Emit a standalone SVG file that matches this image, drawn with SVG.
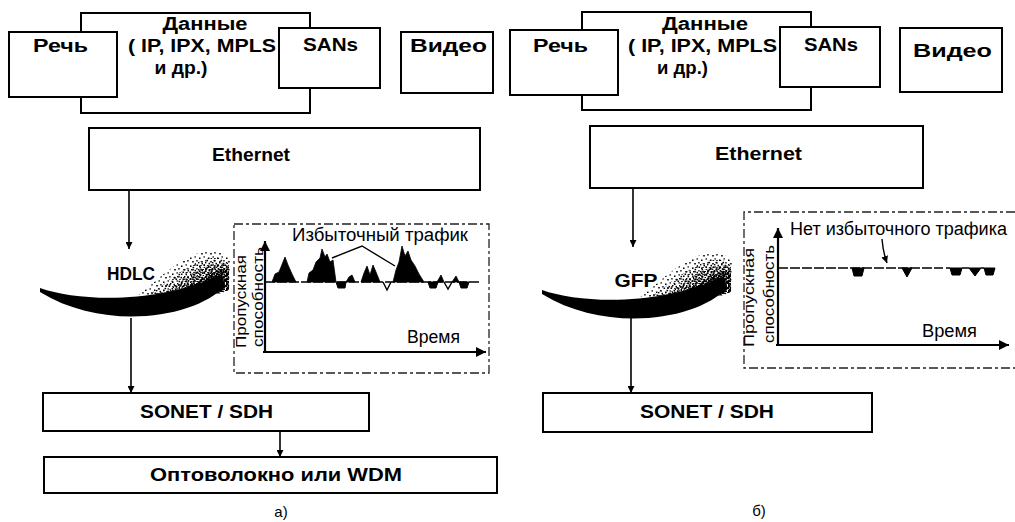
<svg xmlns="http://www.w3.org/2000/svg" width="1015" height="522" viewBox="0 0 1015 522">
<style>
.box{fill:#fff;stroke:#000;stroke-width:2}
.lbl{font-family:"Liberation Sans",Arial,sans-serif;font-weight:bold;font-size:18px;text-anchor:middle;fill:#000}
.ch{font-family:"Liberation Sans",Arial,sans-serif;font-size:18px;fill:#000}
.rot{font-family:"Liberation Sans",Arial,sans-serif;font-size:15px;text-anchor:middle;fill:#000}
.cap{font-family:"Liberation Sans",Arial,sans-serif;font-size:15px;text-anchor:middle;fill:#000}
.conn{stroke:#000;stroke-width:1.6;fill:none}
.axis{stroke:#000;stroke-width:2.2;fill:none}
.frame{fill:none;stroke:#222;stroke-width:1.3;stroke-dasharray:9 3 3 3}
.base{stroke:#000;stroke-width:1.5;fill:none;stroke-dasharray:10 2}
.peak{fill:#000;stroke:#000;stroke-width:0.8;stroke-linejoin:round}
.dip{fill:#000;stroke:#000;stroke-width:1;stroke-linejoin:round}
.vdip{fill:none;stroke:#000;stroke-width:1.4}
.call{fill:none;stroke:#000;stroke-width:1.4}
.dot{fill:#000}
</style>
<defs>
<marker id="ah" markerUnits="userSpaceOnUse" markerWidth="7" markerHeight="7" viewBox="0 0 10 10" refX="10" refY="5" orient="auto"><path d="M0,0 L10,5 L0,10 Z" fill="#000"/></marker>
<marker id="axh" markerUnits="userSpaceOnUse" markerWidth="11" markerHeight="10" viewBox="0 0 10 10" refX="10" refY="5" orient="auto"><path d="M0,0 L10,5 L0,10 Z" fill="#000"/></marker>
<pattern id="d1" patternUnits="userSpaceOnUse" width="9" height="8">
<rect class="dot" x="1" y="1.5" width="1.5" height="1.5"/><rect class="dot" x="5.5" y="0.3" width="1.4" height="1.3"/><rect class="dot" x="3.2" y="5" width="1.6" height="1.5"/><rect class="dot" x="7.3" y="4" width="1.3" height="1.6"/>
</pattern>
<pattern id="d2" patternUnits="userSpaceOnUse" width="7" height="7">
<rect class="dot" x="0.5" y="5.5" width="1.6" height="1.5"/><rect class="dot" x="3.5" y="0.8" width="1.6" height="1.5"/><rect class="dot" x="5.5" y="3.8" width="1.5" height="1.6"/><rect class="dot" x="2" y="3" width="1.4" height="1.4"/><rect class="dot" x="4.2" y="6" width="1.5" height="1"/>
</pattern>
<pattern id="d3" patternUnits="userSpaceOnUse" width="6" height="6">
<rect class="dot" x="0.8" y="0.3" width="1.8" height="1.7"/><rect class="dot" x="3.8" y="2.2" width="1.8" height="1.7"/><rect class="dot" x="1.6" y="4" width="1.7" height="1.8"/><rect class="dot" x="4.6" y="5" width="1.4" height="1"/><rect class="dot" x="0" y="2.6" width="1.3" height="1.3"/>
</pattern>
<pattern id="d4" patternUnits="userSpaceOnUse" width="5" height="5">
<rect class="dot" x="0" y="0" width="2.2" height="2"/><rect class="dot" x="2.6" y="1.2" width="2.2" height="2.2"/><rect class="dot" x="1" y="3" width="2.1" height="2"/><rect class="dot" x="3.6" y="3.8" width="1.4" height="1.2"/>
</pattern>
<g id="crescent">
<path d="M122,306 C148,292 168,264 198,253 C211,249 222,251 230,258 L229,290 C200,302 160,308 122,311 Z" fill="url(#d1)"/>
<path d="M136,303 C158,292 176,270 203,260 C214,256 223,258 229,262 L229,290 C200,300 170,305 136,307 Z" fill="url(#d2)"/>
<path d="M152,300 C172,290 188,274 208,265 L229,263 L229,290 C205,298 180,302 152,303 Z" fill="url(#d3)"/>
<path d="M168,296 C186,288 202,278 218,270 L229,268 L229,290 C210,296 190,299 168,300 Z" fill="url(#d4)"/>
<path d="M40,288 C80,302 160,304 222,274 L225,286 C195,318 105,332 40,292 Z" fill="#000"/>
</g>
</defs>
<rect width="1015" height="522" fill="#fff"/>

<g id="connectors">
<path class="conn" d="M129,190 V249" marker-end="url(#ah)"/>
<path class="conn" d="M131,318 V393" marker-end="url(#ah)"/>
<path class="conn" d="M280,431 V457" marker-end="url(#ah)"/>
<path class="conn" d="M633,188 V247" marker-end="url(#ah)"/>
<path class="conn" d="M631,318 V393" marker-end="url(#ah)"/>
</g>

<!-- Panel a -->
<g id="dannye-a">
<rect class="box" x="81" y="13" width="229" height="100"/>
<text class="lbl" x="205" y="30" textLength="85" lengthAdjust="spacingAndGlyphs">Данные</text>
<text class="lbl" x="202" y="52" textLength="148" lengthAdjust="spacingAndGlyphs">( IP, IPX, MPLS</text>
<text class="lbl" x="181" y="74" textLength="53" lengthAdjust="spacingAndGlyphs">и др.)</text>
</g>
<g id="rech-a">
<rect class="box" x="9" y="32" width="108" height="65"/>
<text class="lbl" x="60.5" y="52" textLength="55" lengthAdjust="spacingAndGlyphs">Речь</text>
</g>
<g id="sans-a">
<rect class="box" x="279" y="28" width="101" height="60"/>
<text class="lbl" x="330.5" y="51" textLength="55" lengthAdjust="spacingAndGlyphs">SANs</text>
</g>
<g id="video-a">
<rect class="box" x="401" y="32" width="92" height="61"/>
<text class="lbl" x="448.5" y="52" textLength="77" lengthAdjust="spacingAndGlyphs">Видео</text>
</g>
<g id="ethernet-a">
<rect class="box" x="89" y="128" width="391" height="62"/>
<text class="lbl" x="251" y="161" textLength="78" lengthAdjust="spacingAndGlyphs">Ethernet</text>
</g>
<g id="hdlc">
<use href="#crescent"/>
<text class="lbl" x="131" y="280" style="font-size:18px" textLength="48" lengthAdjust="spacingAndGlyphs">HDLC</text>
</g>
<g id="chart-a">
<rect class="frame" x="234" y="224" width="255" height="149"/>
<path class="axis" d="M265,353 V241" marker-end="url(#axh)"/>
<path class="axis" d="M263,352 H486" marker-end="url(#axh)"/>
<path class="base" d="M265,282 H480"/>
<polygon class="peak" points="272,282 275,274 279,272 283,262 285,257 288,265 292,274 296,282"/>
<polygon class="peak" points="307,282 309,273 313,270 316,262 320,258 322,249 325,257 327,254 330,262 333,260 336,282"/>
<polygon class="peak" points="346,282 349,277 352,275 355,282"/>
<polygon class="peak" points="361,282 364,273 367,266 370,275 373,265 376,272 380,282"/>
<polygon class="peak" points="393,282 396,270 399,262 402,246 405,256 408,251 411,260 415,266 419,274 424,282"/>
<polygon class="peak" points="437,282 441,275 444,282"/>
<polygon class="peak" points="452,282 456,276 459,282"/>
<polygon class="dip" points="336,282 338,288 345,288 346,282"/>
<polyline class="vdip" points="383,282 387,290 391,282"/>
<polygon class="dip" points="428,282 430,288 436,288 438,282"/>
<polyline class="vdip" points="444,282 448,289 452,282"/>
<polygon class="dip" points="459,282 461,288 467,288 469,282"/>
<polyline class="call" points="332,258 362,246 395,266"/>
<text class="ch" x="292" y="241" textLength="176" lengthAdjust="spacingAndGlyphs">Избыточный трафик</text>
<text class="ch" x="407" y="343" textLength="53" lengthAdjust="spacingAndGlyphs">Время</text>
<text class="rot" transform="translate(246,301.5) rotate(-90)" textLength="93" lengthAdjust="spacingAndGlyphs">Пропускная</text>
<text class="rot" transform="translate(263,297) rotate(-90)" textLength="100" lengthAdjust="spacingAndGlyphs">способность</text>
</g>
<g id="sonet-a">
<rect class="box" x="43" y="393" width="326" height="38"/>
<text class="lbl" x="206.5" y="418" textLength="133" lengthAdjust="spacingAndGlyphs">SONET / SDH</text>
</g>
<g id="fiber-a">
<rect class="box" x="44" y="457" width="453" height="36"/>
<text class="lbl" x="276" y="481" textLength="252" lengthAdjust="spacingAndGlyphs">Оптоволокно или WDM</text>
</g>
<text id="caption-a" class="cap" x="281" y="517">а)</text>

<!-- Panel b -->
<g id="dannye-b">
<rect class="box" x="582" y="12" width="229" height="98"/>
<text class="lbl" x="705" y="30" textLength="86" lengthAdjust="spacingAndGlyphs">Данные</text>
<text class="lbl" x="702.5" y="52" textLength="149" lengthAdjust="spacingAndGlyphs">( IP, IPX, MPLS</text>
<text class="lbl" x="682.5" y="74" textLength="51" lengthAdjust="spacingAndGlyphs">и др.)</text>
</g>
<g id="rech-b">
<rect class="box" x="510" y="30" width="108" height="65"/>
<text class="lbl" x="560.5" y="52" textLength="55" lengthAdjust="spacingAndGlyphs">Речь</text>
</g>
<g id="sans-b">
<rect class="box" x="780" y="27" width="100" height="60"/>
<text class="lbl" x="831" y="51" textLength="54" lengthAdjust="spacingAndGlyphs">SANs</text>
</g>
<g id="video-b">
<rect class="box" x="900" y="28" width="102" height="64"/>
<text class="lbl" x="952.5" y="57" textLength="79" lengthAdjust="spacingAndGlyphs">Видео</text>
</g>
<g id="ethernet-b">
<rect class="box" x="590" y="126" width="333" height="62"/>
<text class="lbl" x="758.5" y="160" textLength="87" lengthAdjust="spacingAndGlyphs">Ethernet</text>
</g>
<g id="gfp">
<use href="#crescent" transform="translate(502,2)"/>
<text class="lbl" x="636" y="287" style="font-size:19px" textLength="43" lengthAdjust="spacingAndGlyphs">GFP</text>
</g>
<g id="chart-b">
<path class="frame" d="M1015,212 H744 V368 H1015"/>
<path class="axis" d="M778,346 V228" marker-end="url(#axh)"/>
<path class="axis" d="M776,345 H1009" marker-end="url(#axh)"/>
<path class="base" d="M778,268 H943"/>
<path class="base" style="stroke-dasharray:none" d="M946,268 H950 M962,268 H969 M981,268 H984"/>
<polygon class="dip" points="852,268 854,276 862,276 864,268"/>
<polygon class="dip" points="902,268 907,277 912,268"/>
<polygon class="dip" points="950,268 952,275 960,275 962,268"/>
<polygon class="dip" points="969,268 975,276 981,268"/>
<polygon class="dip" points="984,268 986,275 993,275 995,268"/>
<path class="call" d="M882,239 Q883,252 887,263" marker-end="url(#ah)"/>
<text class="ch" x="790" y="235" textLength="217" lengthAdjust="spacingAndGlyphs">Нет избыточного трафика</text>
<text class="ch" x="922" y="337" textLength="55" lengthAdjust="spacingAndGlyphs">Время</text>
<text class="rot" transform="translate(754,297.5) rotate(-90)" textLength="99" lengthAdjust="spacingAndGlyphs">Пропускная</text>
<text class="rot" transform="translate(774,294) rotate(-90)" textLength="98" lengthAdjust="spacingAndGlyphs">способность</text>
</g>
<g id="sonet-b">
<rect class="box" x="543" y="393" width="329" height="39"/>
<text class="lbl" x="707" y="418" textLength="134" lengthAdjust="spacingAndGlyphs">SONET / SDH</text>
</g>
<text id="caption-b" class="cap" x="759" y="516">б)</text>
</svg>
